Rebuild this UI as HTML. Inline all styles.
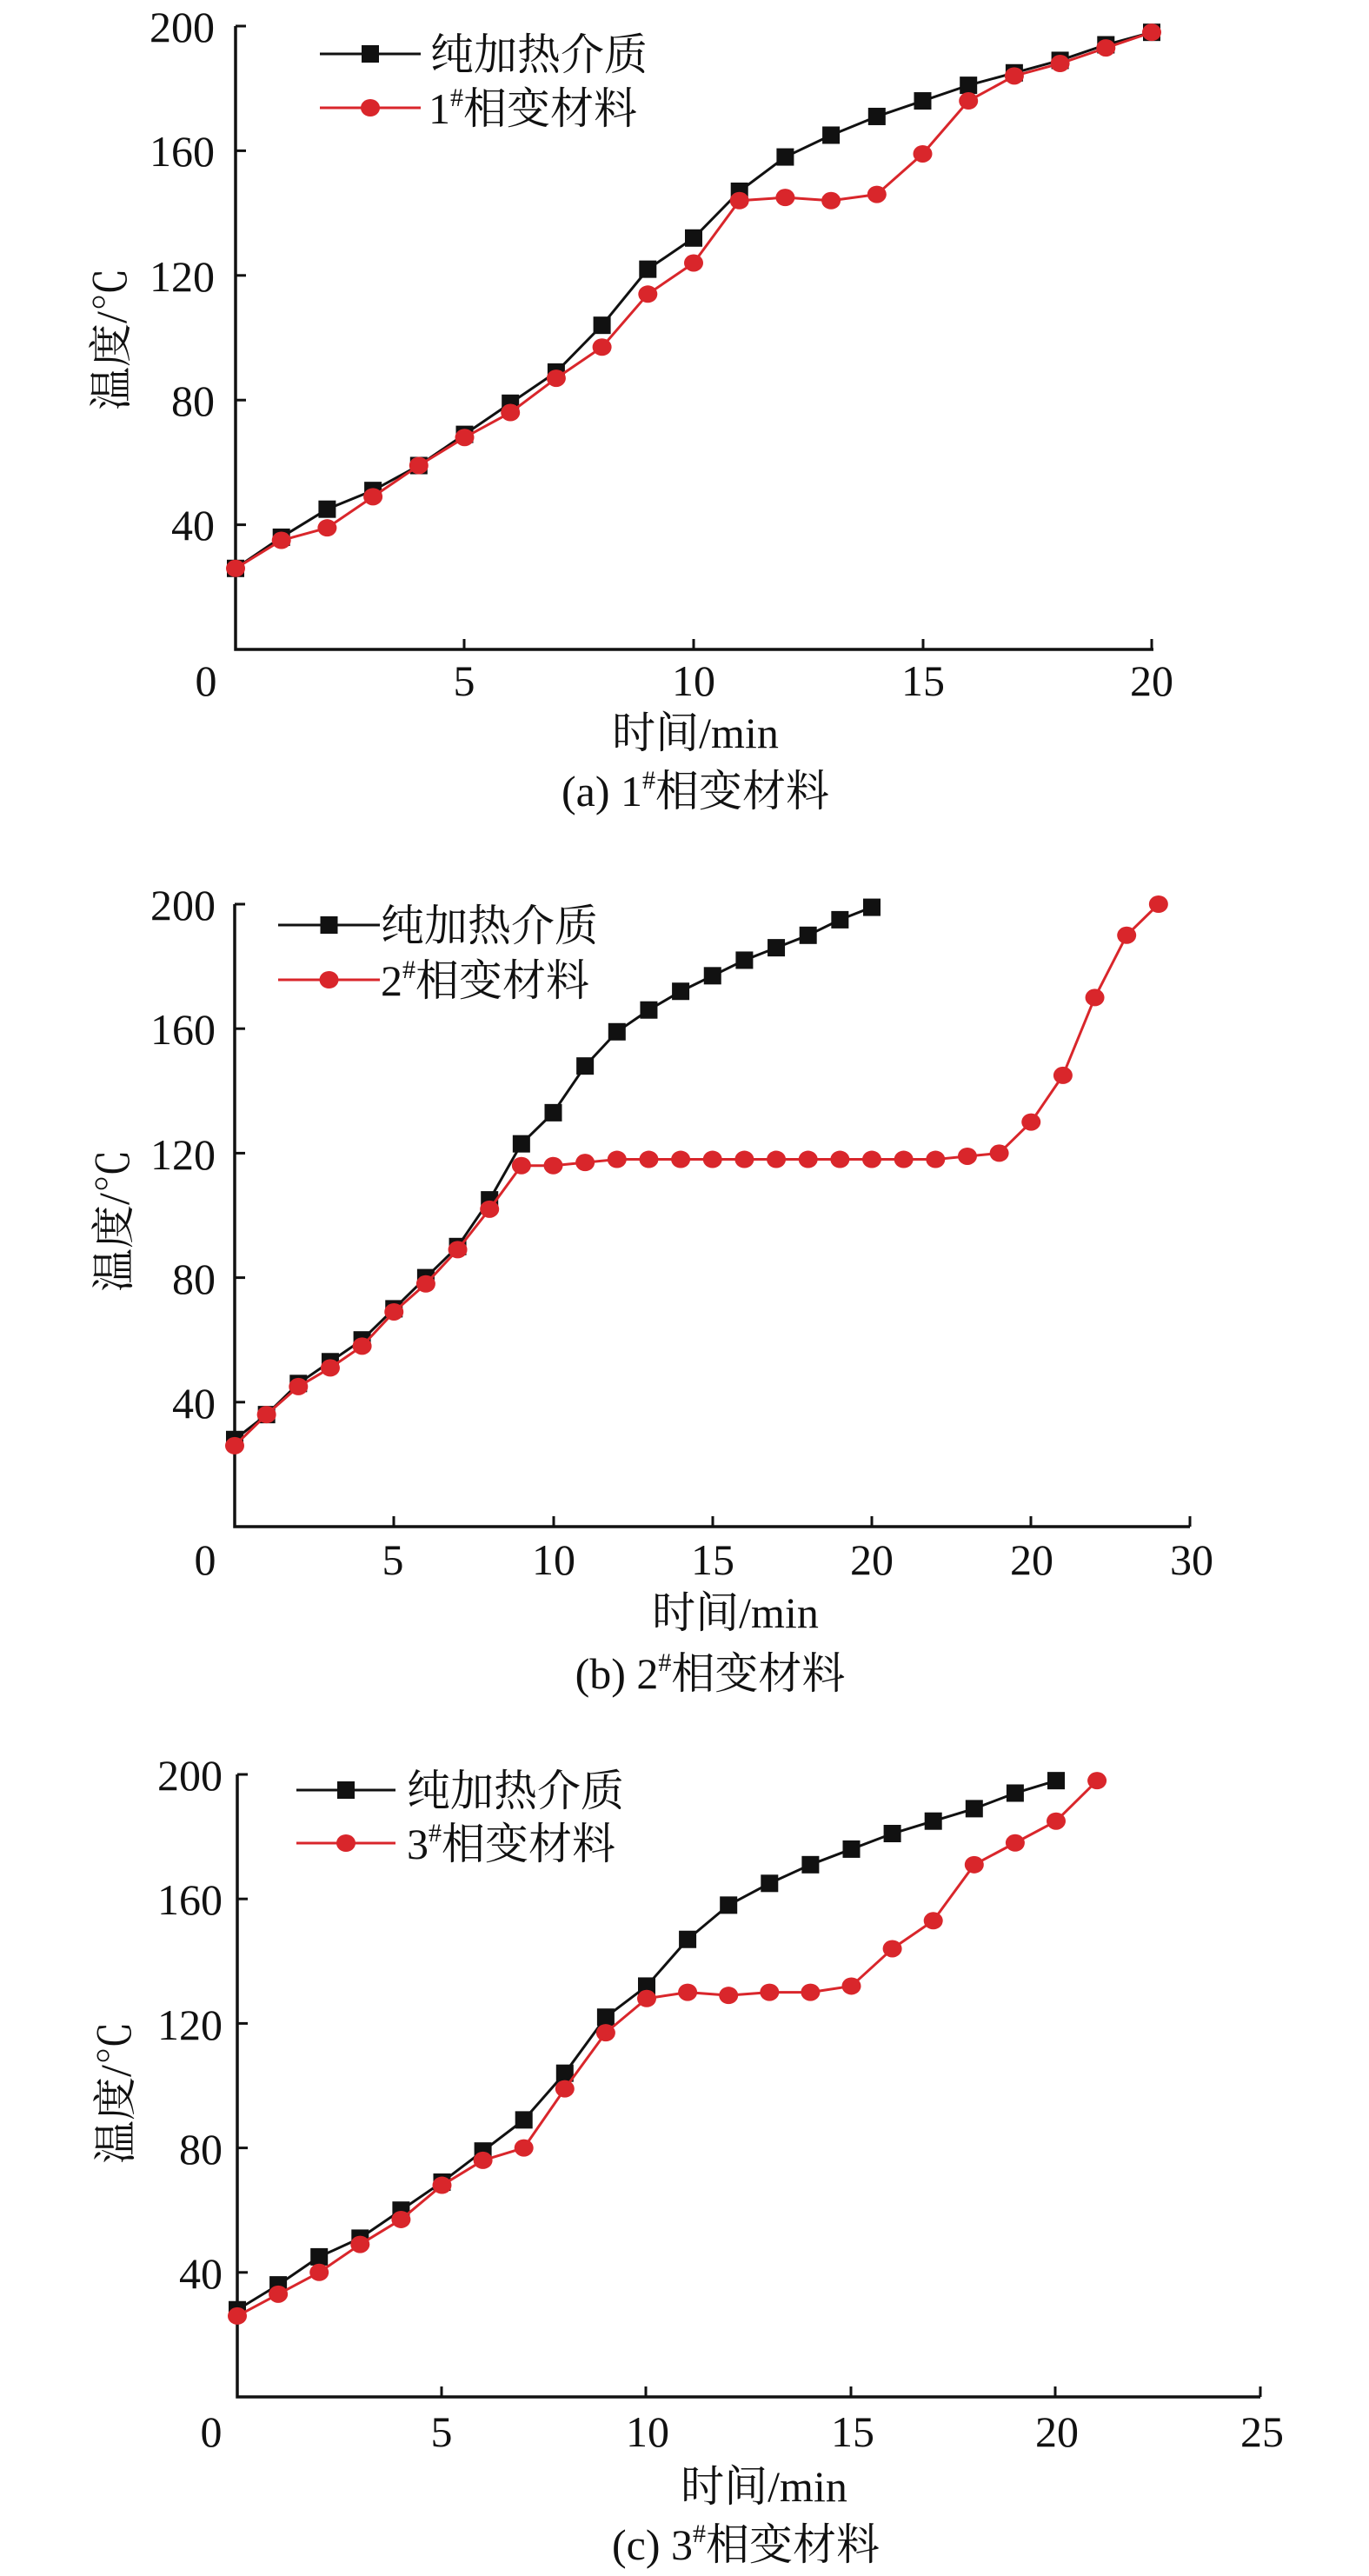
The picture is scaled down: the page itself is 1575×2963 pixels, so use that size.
<!DOCTYPE html>
<html><head><meta charset="utf-8"><style>
html,body{margin:0;padding:0;background:#fff}
svg{display:block}
text{font-family:"Liberation Serif","Noto Serif CJK SC",serif;fill:#111}
</style></head><body>
<svg id="s" width="1575" height="2963" viewBox="0 0 1575 2963" xmlns="http://www.w3.org/2000/svg">
<g font-size="50">
<!-- Chart 1 -->
<text x="247" y="48" text-anchor="end">200</text>
<text x="247" y="191" text-anchor="end">160</text>
<text x="247" y="335" text-anchor="end">120</text>
<text x="247" y="478" text-anchor="end">80</text>
<text x="247" y="621" text-anchor="end">40</text>
<text x="237" y="800" text-anchor="middle">0</text>
<text x="534" y="800" text-anchor="middle">5</text>
<text x="798" y="800" text-anchor="middle">10</text>
<text x="1062" y="800" text-anchor="middle">15</text>
<text x="1325" y="800" text-anchor="middle">20</text>
<text x="800" y="860" text-anchor="middle">时间/min</text>
<text x="800" y="927" text-anchor="middle">(a) 1<tspan font-size="30" dy="-20">#</tspan><tspan dy="20">相变材料</tspan></text>
<text transform="translate(145,390) rotate(-90)" text-anchor="middle">温度/℃</text>
<text x="495" y="80">纯加热介质</text>
<text x="493" y="142">1<tspan font-size="30" dy="-20">#</tspan><tspan dy="20">相变材料</tspan></text>
<!-- Chart 2 -->
<text x="248" y="1058" text-anchor="end">200</text>
<text x="248" y="1201" text-anchor="end">160</text>
<text x="248" y="1345" text-anchor="end">120</text>
<text x="248" y="1488" text-anchor="end">80</text>
<text x="248" y="1631" text-anchor="end">40</text>
<text x="236" y="1811" text-anchor="middle">0</text>
<text x="452" y="1811" text-anchor="middle">5</text>
<text x="637" y="1811" text-anchor="middle">10</text>
<text x="820" y="1811" text-anchor="middle">15</text>
<text x="1003" y="1811" text-anchor="middle">20</text>
<text x="1187" y="1811" text-anchor="middle">20</text>
<text x="1371" y="1811" text-anchor="middle">30</text>
<text x="846" y="1872" text-anchor="middle">时间/min</text>
<text x="817" y="1942" text-anchor="middle">(b) 2<tspan font-size="30" dy="-20">#</tspan><tspan dy="20">相变材料</tspan></text>
<text transform="translate(148,1404) rotate(-90)" text-anchor="middle">温度/℃</text>
<text x="438" y="1082">纯加热介质</text>
<text x="438" y="1145">2<tspan font-size="30" dy="-20">#</tspan><tspan dy="20">相变材料</tspan></text>
<!-- Chart 3 -->
<text x="256" y="2059" text-anchor="end">200</text>
<text x="256" y="2202" text-anchor="end">160</text>
<text x="256" y="2346" text-anchor="end">120</text>
<text x="256" y="2489" text-anchor="end">80</text>
<text x="256" y="2632" text-anchor="end">40</text>
<text x="243" y="2814" text-anchor="middle">0</text>
<text x="508" y="2814" text-anchor="middle">5</text>
<text x="745" y="2814" text-anchor="middle">10</text>
<text x="981" y="2814" text-anchor="middle">15</text>
<text x="1216" y="2814" text-anchor="middle">20</text>
<text x="1452" y="2814" text-anchor="middle">25</text>
<text x="879" y="2877" text-anchor="middle">时间/min</text>
<text x="858" y="2944" text-anchor="middle">(c) 3<tspan font-size="30" dy="-20">#</tspan><tspan dy="20">相变材料</tspan></text>
<text transform="translate(150,2407) rotate(-90)" text-anchor="middle">温度/℃</text>
<text x="468" y="2077">纯加热介质</text>
<text x="468" y="2138">3<tspan font-size="30" dy="-20">#</tspan><tspan dy="20">相变材料</tspan></text>
</g>
<g id="plots"></g>
</svg>
<script>
var NS="http://www.w3.org/2000/svg",G=document.getElementById("plots");
function el(t,a){var e=document.createElementNS(NS,t);for(var k in a)e.setAttribute(k,a[k]);G.appendChild(e);return e;}
function chart(c){
 var X=function(v){return c.x0+v*c.sx},Y=function(v){return c.y0-v*c.sy};
 el("path",{d:"M"+c.x0+","+Y(200)+"V"+c.y0+"H"+c.xe,stroke:"#111","stroke-width":3.5,fill:"none"});
 for(var v=40;v<=200;v+=40)el("line",{x1:c.x0,x2:c.x0+12,y1:Y(v),y2:Y(v),stroke:"#111","stroke-width":3});
 c.xt.forEach(function(t){el("line",{x1:t,x2:t,y1:c.y0,y2:c.y0-12,stroke:"#111","stroke-width":3});});
 [[c.b,"#111",0],[c.r,"#d9262b",1]].forEach(function(s){
  var pts=s[0].map(function(v,i){return X(i)+","+Y(v)}).join(" ");
  el("polyline",{points:pts,stroke:s[1],"stroke-width":3,fill:"none","stroke-linejoin":"round"});
  s[0].forEach(function(v,i){
   if(s[2])el("ellipse",{cx:X(i),cy:Y(v),rx:11,ry:10,fill:s[1]});
   else el("rect",{x:X(i)-10,y:Y(v)-10,width:20,height:20,fill:s[1]});
  });
 });
 var L=c.leg;
 el("line",{x1:L[0],x2:L[1],y1:L[2],y2:L[2],stroke:"#111","stroke-width":3});
 el("rect",{x:(L[0]+L[1])/2-10,y:L[2]-10,width:20,height:20,fill:"#111"});
 el("line",{x1:L[0],x2:L[1],y1:L[3],y2:L[3],stroke:"#d9262b","stroke-width":3});
 el("ellipse",{cx:(L[0]+L[1])/2,cy:L[3],rx:11,ry:10,fill:"#d9262b"});
}
chart({x0:271,y0:747,sx:52.7,sy:3.585,xe:1327,xt:[534,798,1062,1325],leg:[368,484,62,124],
 b:[26,36,45,51,59,69,79,89,104,122,132,147,158,165,171,176,181,185,189,194,198],
 r:[26,35,39,49,59,68,76,87,97,114,124,144,145,144,146,159,176,184,188,193,198]});
chart({x0:270,y0:1756,sx:36.65,sy:3.58,xe:1369,xt:[453,637,820,1003,1186,1369],leg:[320,437,1064,1127],
 b:[28,36,46,53,60,70,80,90,105,123,133,148,159,166,172,177,182,186,190,195,199],
 r:[26,36,45,51,58,69,78,89,102,116,116,117,118,118,118,118,118,118,118,118,118,118,118,119,120,130,145,170,190,200]});
chart({x0:273,y0:2757,sx:47.1,sy:3.58,xe:1450,xt:[508,743,979,1214,1450],leg:[341,455,2059,2120],
 b:[28,36,45,51,60,69,79,89,104,122,132,147,158,165,171,176,181,185,189,194,198],
 r:[26,33,40,49,57,68,76,80,99,117,128,130,129,130,130,132,144,153,171,178,185,198]});
</script>
</body></html>
